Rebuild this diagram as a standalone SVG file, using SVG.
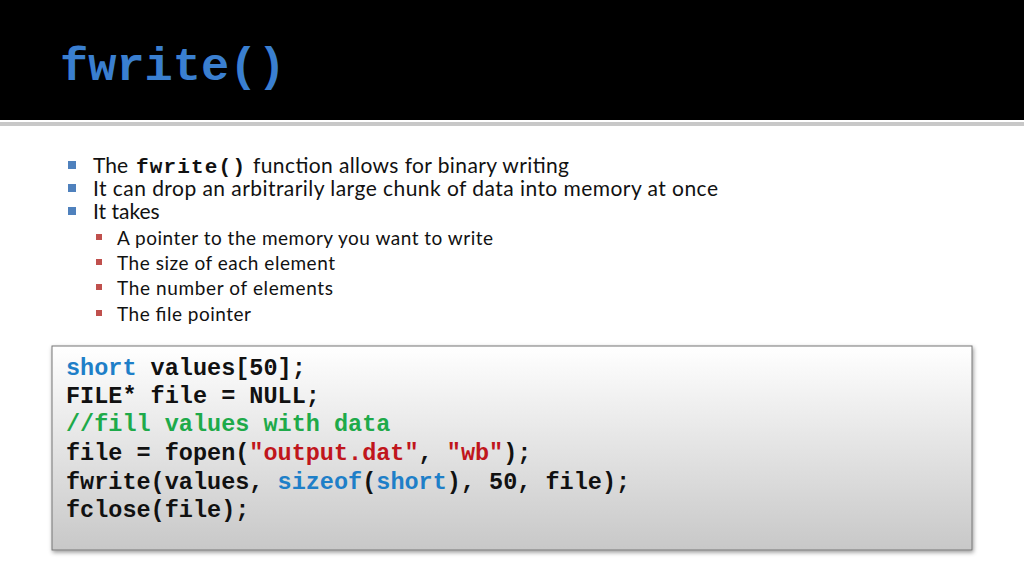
<svg xmlns="http://www.w3.org/2000/svg" width="1024" height="576" viewBox="0 0 1024 576">
<defs>
<linearGradient id="g" x1="0" y1="0" x2="0" y2="1"><stop offset="0" stop-color="#ffffff"/><stop offset="1" stop-color="#c8c8c8"/></linearGradient>
<filter id="sh" x="-5%" y="-5%" width="110%" height="115%"><feDropShadow dx="1" dy="2" stdDeviation="2" flood-color="#000" flood-opacity="0.4"/></filter>
</defs>
<style>
.b{font-family:Lato,"Open Sans",sans-serif;font-size:21px;fill:#111}
.s{font-family:Lato,"Open Sans",sans-serif;font-size:19px;fill:#111}
.m{font-family:"Liberation Mono",monospace;font-weight:bold;font-size:21px;fill:#111}
.c{font-family:"Liberation Mono",monospace;font-weight:bold;font-size:23.5px;fill:#111}
.k{fill:#1e7fc8}.str{fill:#c0161c}.cm{fill:#1eaa4a}
</style>
<rect width="1024" height="576" fill="#fff"/>
<rect width="1024" height="120" fill="#000"/>
<rect y="122" width="1024" height="4" fill="#c8c8c8"/>
<text x="60" y="80" font-family="Liberation Mono,monospace" font-weight="bold" font-size="47" fill="#3a7fd0">fwrite()</text>
<g id="bullets">
<rect x="68" y="161" width="8" height="8" fill="#4f81bd"/>
<rect x="68" y="184" width="8" height="8" fill="#4f81bd"/>
<rect x="68" y="207" width="8" height="8" fill="#4f81bd"/>
<rect x="96" y="234" width="6" height="6" fill="#c0504d"/>
<rect x="96" y="259" width="6" height="6" fill="#c0504d"/>
<rect x="96" y="284" width="6" height="6" fill="#c0504d"/>
<rect x="96" y="310" width="6" height="6" fill="#c0504d"/>
<text class="b" x="93" y="173">The</text>
<text class="m" x="136" y="173" textLength="109">fwrite()</text>
<text class="b" x="253" y="173" textLength="316">function allows for binary writing</text>
<text class="b" x="93" y="196" textLength="625">It can drop an arbitrarily large chunk of data into memory at once</text>
<text class="b" x="93" y="219">It takes</text>
<text class="s" x="117" y="245" textLength="376">A pointer to the memory you want to write</text>
<text class="s" x="117" y="270" textLength="218">The size of each element</text>
<text class="s" x="117" y="295" textLength="216">The number of elements</text>
<text class="s" x="117" y="321" textLength="134">The file pointer</text>
</g>
<g id="code">
<rect x="52" y="346" width="920" height="204" fill="url(#g)" stroke="#777" stroke-width="1" filter="url(#sh)"/>
<text class="c" x="66" y="375"><tspan class="k">short</tspan> values[50];</text>
<text class="c" x="66" y="403">FILE* file = NULL;</text>
<text class="c cm" x="66" y="431">//fill values with data</text>
<text class="c" x="66" y="460">file = fopen(<tspan class="str">"output.dat"</tspan>, <tspan class="str">"wb"</tspan>);</text>
<text class="c" x="66" y="489">fwrite(values, <tspan class="k">sizeof</tspan>(<tspan class="k">short</tspan>), 50, file);</text>
<text class="c" x="66" y="517">fclose(file);</text>
</g>
</svg>
